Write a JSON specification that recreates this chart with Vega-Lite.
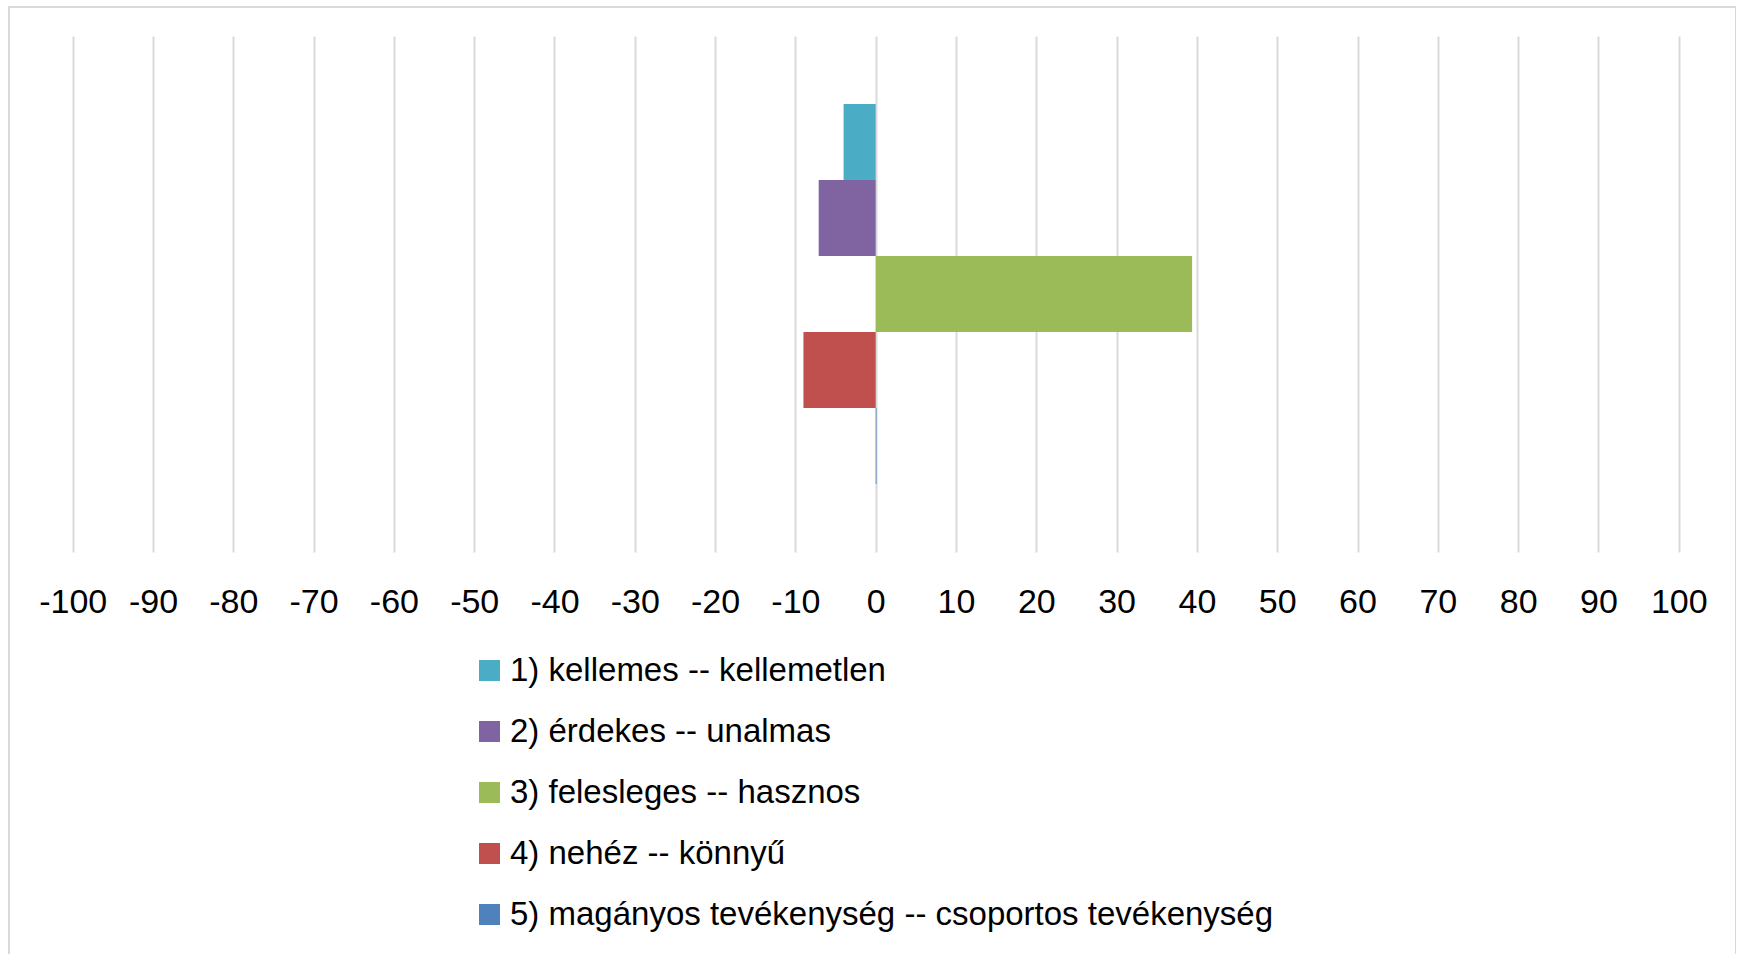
{
  "$schema": "https://vega.github.io/schema/vega-lite/v6.json",
  "autosize": {"type": "none"},
  "padding": {"left": 9, "top": 7, "right": 0, "bottom": 0},
  "width": 1727,
  "height": 950,
  "background": "white",
  "config": {
    "view": {"stroke": "#d9d9d9", "strokeWidth": 2},
    "font": "Liberation Sans"
  },
  "data": {
    "values": [
      {"series": "1) kellemes -- kellemetlen", "order": 1, "value": -4.0},
      {"series": "2) érdekes -- unalmas", "order": 2, "value": -7.1},
      {"series": "3) felesleges -- hasznos", "order": 3, "value": 39.4},
      {"series": "4) nehéz -- könnyű", "order": 4, "value": -9.0},
      {"series": "5) magányos tevékenység -- csoportos tevékenység", "order": 5, "value": 0.1}
    ]
  },
  "mark": {"type": "bar", "strokeWidth": 0},
  "encoding": {
    "y": {
      "field": "series",
      "type": "nominal",
      "sort": {"field": "order"},
      "scale": {"range": [29, 545], "paddingInner": 0, "paddingOuter": 0.895},
      "axis": null
    },
    "x": {
      "field": "value",
      "type": "quantitative",
      "scale": {"domain": [-107.93, 107.13], "nice": false, "zero": false},
      "axis": {
        "orient": "top",
        "values": [-100, -90, -80, -70, -60, -50, -40, -30, -20, -10, 0, 10, 20, 30, 40, 50, 60, 70, 80, 90, 100],
        "labelExpr": "datum.value < 0 ? '-' + abs(datum.value) : '' + datum.value",
        "domain": false,
        "ticks": false,
        "tickSize": 0,
        "grid": true,
        "gridColor": "#d9d9d9",
        "gridWidth": 2,
        "labelFont": "Liberation Sans",
        "labelFontSize": 34,
        "labelColor": "#000000",
        "labelBaseline": "alphabetic",
        "labelPadding": -605,
        "labelFlush": false,
        "labelOverlap": false,
        "title": null
      }
    },
    "x2": {"datum": 0},
    "color": {
      "field": "series",
      "type": "nominal",
      "sort": {"field": "order"},
      "scale": {
        "domain": ["1) kellemes -- kellemetlen", "2) érdekes -- unalmas", "3) felesleges -- hasznos", "4) nehéz -- könnyű", "5) magányos tevékenység -- csoportos tevékenység"],
        "range": ["#4BACC6", "#8064A2", "#9BBB59", "#C0504D", "#4F81BD"]
      },
      "legend": {
        "orient": "none",
        "legendX": 464,
        "legendY": 647,
        "title": null,
        "padding": 0,
        "symbolType": "square",
        "symbolSize": 441,
        "symbolStrokeWidth": 0,
        "symbolOpacity": 1,
        "labelFont": "Liberation Sans",
        "labelFontSize": 33,
        "labelColor": "#000000",
        "labelOffset": 4,
        "labelLimit": 1200,
        "rowPadding": 27
      }
    }
  }
}
